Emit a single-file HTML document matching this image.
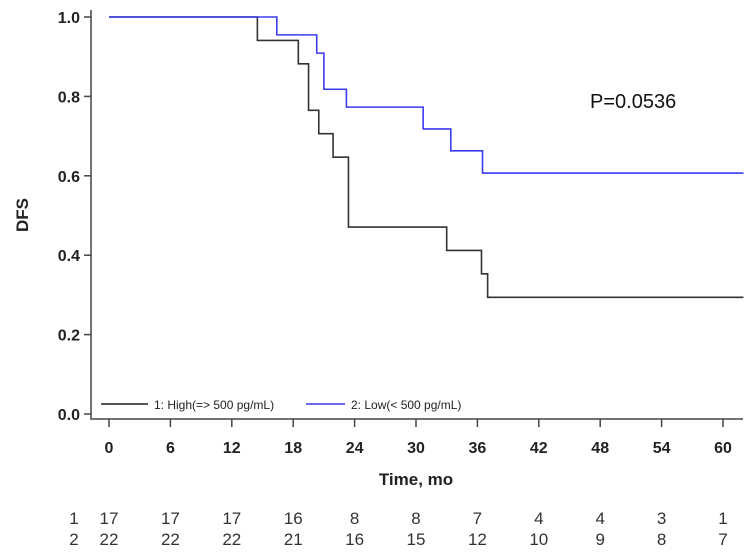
<!DOCTYPE html>
<html><head><meta charset="utf-8"><style>
body{margin:0;background:#fff;}
svg text{font-family:"Liberation Sans",Arial,sans-serif;}
</style></head><body>
<svg id="chart" width="751" height="555"></svg>
<script>
const xTicks=[0,6,12,18,24,30,36,42,48,54,60];
const yTicks=[0,0.2,0.4,0.6,0.8,1.0];
const highTimes=[0,14.5,18.5,19.5,20.5,21.9,23.4,33,36.4,37];
const highSurv=[1,0.941,0.882,0.765,0.706,0.647,0.471,0.412,0.353,0.294];
const lowTimes=[0,16.4,20.3,21,23.2,30.7,33.4,36.5];
const lowSurv=[1,0.955,0.909,0.818,0.773,0.718,0.663,0.607];
const riskHigh=[17,17,17,16,8,8,7,4,4,3,1];
const riskLow=[22,22,22,21,16,15,12,10,9,8,7];
const xMax=62;
const X=t=>109+t*(723-109)/60;
const Y=v=>414-v*397;
const svg=document.getElementById('chart');
const NS='http://www.w3.org/2000/svg';
function mk(tag,attrs,txt){const e=document.createElementNS(NS,tag);for(const k in attrs)e.setAttribute(k,attrs[k]);if(txt!==undefined)e.textContent=txt;svg.appendChild(e);return e;}
// axes
let a=mk('path',{d:'M91,10 V419 H743',fill:'none',stroke:'#444','stroke-width':1.5});


yTicks.forEach(v=>{
 const t=mk('line',{x1:84,x2:91,y1:Y(v),y2:Y(v),stroke:'#444','stroke-width':1.5});
 
 
 const l=mk('text',{x:80,y:Y(v)+6,'text-anchor':'end','font-size':16,'font-weight':'bold',fill:'#222'},v.toFixed(1));
 
 
});
xTicks.forEach((v,i)=>{
 const t=mk('line',{x1:X(v),x2:X(v),y1:419,y2:427,stroke:'#444','stroke-width':1.5});
 
 
 const l=mk('text',{x:X(v),y:453,'text-anchor':'middle','font-size':16,'font-weight':'bold',fill:'#222'},String(v));
 
 
 const r1=mk('text',{x:X(v),y:524,'text-anchor':'middle','font-size':17,fill:'#333'},String(riskHigh[i]));
 
 
 const r2=mk('text',{x:X(v),y:545,'text-anchor':'middle','font-size':17,fill:'#333'},String(riskLow[i]));
 
 
});
let g1=mk('text',{x:74,y:524,'text-anchor':'middle','font-size':17,fill:'#333'},'1');


let g2=mk('text',{x:74,y:545,'text-anchor':'middle','font-size':17,fill:'#333'},'2');


let xt=mk('text',{x:416,y:485,'text-anchor':'middle','font-size':17,'font-weight':'bold',fill:'#222'},'Time, mo');


let yt=mk('text',{x:28,y:215,'text-anchor':'middle','font-size':17,'font-weight':'bold',fill:'#222',transform:'rotate(-90 28 215)'},'DFS');


let pv=mk('text',{x:590,y:108,'font-size':20,fill:'#111'},'P=0.0536');


function stepPath(ts,ss){let d='M'+X(ts[0])+','+Y(ss[0]);for(let i=1;i<ts.length;i++){d+=' H'+X(ts[i])+' V'+Y(ss[i]);}d+=' H'+X(xMax);return d;}
let ph=mk('path',{d:stepPath(highTimes,highSurv),fill:'none',stroke:'#333','stroke-width':1.6});


let pl=mk('path',{d:stepPath(lowTimes,lowSurv),fill:'none',stroke:'#3b3bf0','stroke-width':1.6});


// legend
let l1=mk('line',{x1:101,x2:148,y1:404,y2:404,stroke:'#555','stroke-width':2});


let t1=mk('text',{x:154,y:409,'font-size':12,fill:'#222'},'1: High(=> 500 pg/mL)');


let l2=mk('line',{x1:306,x2:345,y1:404,y2:404,stroke:'#6a6aee','stroke-width':2});


let t2=mk('text',{x:351,y:409,'font-size':12,fill:'#222'},'2: Low(< 500 pg/mL)');


</script>
</body></html>
